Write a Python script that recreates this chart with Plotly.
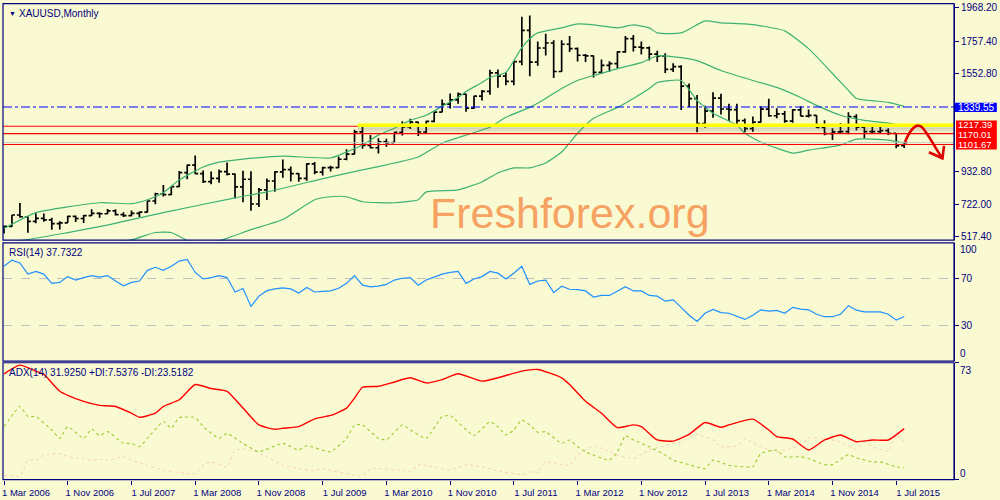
import plotly.graph_objects as go

# ---------------- data ----------------
month_names = ["Jan", "Feb", "Mar", "Apr", "May", "Jun", "Jul", "Aug", "Sep", "Oct", "Nov", "Dec"]
months = [f"{m} {y}" for y in range(2006, 2016) for m in month_names]
months = months[months.index("Mar 2006"): months.index("Aug 2015") + 1]

opens = [556, 582, 654, 643, 614, 633, 623, 599, 604, 646,
         632, 650, 665, 662, 680, 656, 650, 665, 672, 743, 789, 783,
         834, 923, 971, 917, 866, 886, 929, 913, 833, 881, 724, 814,
         870, 928, 942, 917, 886, 979, 926, 955, 955, 1008, 1040, 1182,
         1096, 1081, 1118, 1113, 1179, 1213, 1244, 1181, 1248, 1307, 1358, 1385,
         1421, 1333, 1409, 1439, 1556, 1536, 1502, 1628, 1826, 1624, 1714, 1746,
         1565, 1738, 1710, 1668, 1664, 1560, 1604, 1615, 1689, 1774, 1720, 1715,
         1675, 1662, 1578, 1596, 1472, 1393, 1234, 1313, 1396, 1327, 1323, 1253,
         1202, 1244, 1326, 1284, 1296, 1250, 1322, 1282, 1286, 1210, 1171, 1182,
         1183, 1279, 1212, 1183, 1183, 1190, 1172, 1095]
highs = [588, 654, 730, 646, 665, 664, 636, 614, 650, 651,
         654, 690, 671, 692, 691, 672, 683, 676, 745, 795, 845, 838,
         933, 975, 1032, 937, 930, 943, 988, 918, 935, 932, 825, 886,
         932, 1006, 962, 920, 982, 990, 961, 966, 1025, 1071, 1195, 1227,
         1162, 1141, 1138, 1180, 1249, 1265, 1246, 1253, 1308, 1388, 1425, 1431,
         1423, 1411, 1447, 1576, 1577, 1560, 1632, 1913, 1921, 1755, 1804, 1763,
         1764, 1791, 1718, 1676, 1666, 1641, 1630, 1694, 1790, 1796, 1755, 1723,
         1697, 1681, 1617, 1604, 1488, 1416, 1348, 1434, 1424, 1361, 1361, 1267,
         1279, 1345, 1392, 1331, 1315, 1326, 1345, 1324, 1287, 1256, 1205, 1238,
         1307, 1294, 1220, 1224, 1232, 1205, 1174, 1119]
lows = [536, 580, 636, 542, 602, 612, 560, 562, 603, 609,
        604, 647, 636, 660, 651, 641, 646, 642, 670, 722, 772, 781,
        832, 881, 912, 857, 850, 859, 905, 759, 735, 681, 705, 750,
        802, 890, 866, 865, 871, 913, 905, 930, 952, 1002, 1039, 1075,
        1076, 1045, 1088, 1113, 1159, 1200, 1155, 1174, 1243, 1307, 1330, 1360,
        1309, 1329, 1381, 1418, 1462, 1478, 1478, 1604, 1535, 1602, 1667, 1523,
        1563, 1688, 1628, 1625, 1527, 1549, 1564, 1586, 1684, 1692, 1673, 1635,
        1626, 1555, 1562, 1321, 1338, 1180, 1208, 1271, 1292, 1251, 1226, 1180,
        1182, 1239, 1277, 1268, 1240, 1240, 1281, 1273, 1206, 1161, 1130, 1170,
        1167, 1190, 1141, 1170, 1170, 1162, 1077, 1079]
closes = [582, 654, 643, 614, 633, 623, 599, 604, 646, 632,
          650, 665, 662, 680, 656, 650, 665, 672, 743, 789, 783, 834,
          923, 971, 917, 866, 886, 929, 913, 833, 881, 724, 814, 870,
          928, 942, 917, 886, 979, 926, 955, 955, 1008, 1040, 1182, 1096,
          1081, 1118, 1113, 1179, 1213, 1244, 1181, 1248, 1307, 1358, 1385, 1421,
          1333, 1409, 1439, 1556, 1536, 1502, 1628, 1826, 1624, 1714, 1746, 1565,
          1738, 1710, 1668, 1664, 1560, 1604, 1615, 1689, 1774, 1720, 1715, 1675,
          1662, 1578, 1596, 1472, 1393, 1234, 1313, 1396, 1327, 1323, 1253, 1202,
          1244, 1326, 1284, 1296, 1250, 1322, 1282, 1286, 1210, 1171, 1182, 1183,
          1279, 1212, 1183, 1183, 1190, 1172, 1095, 1113]

# Bollinger bands (at selected bars)
bb_up_idx = [0, 4, 12, 16, 18, 20, 22, 25, 27, 30, 35, 41, 43, 45, 47, 49, 51, 53, 55, 57, 58, 60, 61, 63,
             64, 65, 66, 67, 70, 72, 74, 77, 79, 81, 82, 85, 88, 90, 93, 95, 98, 101, 104, 106, 107, 111, 113]
bb_up = [568, 669, 732, 726, 751, 795, 877, 959, 990, 1009, 1028, 1016, 1054, 1098, 1161, 1205, 1255, 1287,
         1344, 1400, 1438, 1495, 1527, 1558, 1634, 1716, 1773, 1810, 1842, 1867, 1861, 1842, 1861, 1842,
         1810, 1810, 1886, 1874, 1867, 1855, 1823, 1710, 1552, 1445, 1394, 1369, 1344]
bb_mid_idx = [0, 3, 12, 20, 29, 33, 41, 45, 49, 52, 55, 58, 61, 63, 66, 68, 70, 72, 74, 77, 80, 82, 85, 87,
              90, 94, 97, 100, 102, 105, 108, 111, 113]
bb_mid = [480, 498, 580, 669, 763, 801, 896, 940, 984, 1022, 1110, 1161, 1211, 1274, 1337, 1394, 1457, 1508,
          1539, 1583, 1621, 1665, 1653, 1634, 1571, 1508, 1464, 1400, 1350, 1287, 1255, 1237, 1218]
bb_low_idx = [0, 8, 12, 16, 19, 21, 23, 25, 27, 31, 35, 39, 41, 43, 45, 49, 52, 53, 57, 60, 62, 64, 66, 68,
              70, 72, 74, 77, 79, 81, 82, 85, 87, 89, 92, 93, 95, 99, 101, 105, 107, 111, 113]
bb_low = [390, 440, 470, 496, 543, 543, 492, 478, 490, 561, 625, 751, 770, 770, 738, 732, 751, 801, 814,
          864, 921, 953, 953, 984, 1054, 1173, 1268, 1337, 1394, 1457, 1495, 1508, 1382, 1300, 1224, 1173,
          1117, 1047, 1066, 1098, 1136, 1129, 1110]

# RSI(14), one value per bar
rsi = [80.1, 85.4, 83.0, 73.5, 75.8, 73.5, 65.7, 66.5, 71.4, 68.5,
       70.6, 72.3, 70.9, 72.3, 67.7, 63.6, 66.5, 67.7, 76.7, 79.3,
       76.7, 80.1, 84.5, 85.9, 74.9, 69.4, 70.6, 72.3, 70.6, 58.4,
       61.3, 46.2, 54.9, 59.5, 61.0, 61.9, 61.0, 57.5, 62.2, 58.4,
       59.0, 59.3, 61.5, 65.7, 72.3, 64.2, 62.8, 63.4, 64.8, 68.5,
       70.0, 70.6, 64.2, 68.5, 71.0, 73.5, 75.0, 75.8, 65.7, 69.4,
       71.4, 75.8, 74.3, 69.4, 74.3, 80.1, 64.8, 67.7, 68.5, 57.8,
       63.3, 60.7, 60.4, 59.3, 54.1, 55.5, 55.5, 59.0, 62.8, 59.3,
       59.3, 55.5, 54.9, 50.6, 51.7, 45.4, 38.7, 33.5, 40.4, 43.6,
       41.0, 40.4, 38.1, 35.2, 38.7, 43.3, 42.2, 42.8, 40.4, 45.4,
       43.9, 43.3, 39.6, 37.5, 37.5, 39.6, 46.8, 43.0, 41.6, 41.6,
       41.6, 39.6, 34.6, 37.7]
rsi_last_text = "37.7322"

# ADX(14) and DI lines (at selected bars)
adx_idx = [0, 2, 4, 5, 7, 8, 10, 12, 14, 16, 17, 19, 20, 22, 24, 26, 28, 30, 32, 34, 35, 37, 39, 41, 43, 44,
           45, 47, 49, 51, 53, 55, 57, 60, 62, 65, 67, 70, 71, 73, 75, 77, 79, 80, 82, 84, 86, 88, 90, 91, 94,
           96, 97, 99, 101, 103, 105, 107, 109, 111, 113]
adx = [66.1, 71.5, 67.8, 65.7, 55.2, 52.7, 48.9, 46.4, 45.7, 41.5, 39.0, 41.5, 45.7, 49.9, 59.4, 56.9, 55.2,
       44.7, 34.2, 31.5, 32.1, 33.1, 38.0, 40.1, 44.7, 51.0, 57.7, 58.3, 61.0, 63.6, 60.4, 62.5, 66.1, 61.5,
       63.6, 67.8, 68.8, 63.6, 59.4, 48.9, 41.5, 32.5, 34.2, 33.1, 24.8, 24.1, 28.3, 35.7, 32.7, 34.2, 37.8,
       31.0, 26.9, 25.4, 18.5, 24.8, 27.9, 23.7, 24.8, 24.8, 31.9]
pdi_idx = [0, 2, 3, 4, 6, 7, 8, 10, 11, 12, 13, 15, 16, 17, 18, 20, 21, 22, 24, 25, 27, 28, 30, 32, 35, 37,
           38, 41, 43, 44, 45, 47, 48, 50, 51, 53, 55, 56, 59, 61, 62, 63, 64, 65, 66, 67, 68, 70, 71, 72, 73,
           76, 77, 78, 79, 81, 83, 84, 86, 88, 89, 91, 93, 94, 95, 97, 98, 100, 101, 103, 104, 106, 107, 109,
           110, 112, 113]
pdi = [33.1, 45.7, 39.4, 39.4, 31.0, 25.8, 33.1, 25.8, 31.7, 27.5, 30.0, 22.7, 22.7, 20.6, 25.8, 36.3, 32.1,
       38.8, 38.8, 33.1, 25.8, 28.9, 22.7, 17.4, 22.7, 18.5, 21.2, 17.4, 25.8, 34.2, 34.2, 25.8, 24.8, 34.2,
       31.0, 25.8, 39.4, 40.1, 27.5, 36.3, 33.0, 27.9, 31.0, 37.3, 34.2, 29.6, 30.0, 22.7, 24.8, 20.6, 17.4,
       12.2, 17.4, 27.5, 24.8, 20.6, 15.3, 12.2, 9.4, 6.9, 12.2, 9.0, 8.0, 8.0, 16.4, 18.5, 14.3, 14.3, 13.2,
       9.4, 9.4, 15.7, 13.6, 11.1, 11.1, 8.0, 7.5]
mdi_idx = [0, 2, 3, 4, 5, 7, 8, 10, 11, 12, 13, 15, 16, 18, 20, 24, 25, 26, 28, 29, 30, 31, 33, 35, 37, 39,
           40, 42, 45, 46, 50, 51, 52, 54, 56, 58, 60, 62, 65, 66, 67, 68, 71, 72, 74, 76, 77, 79, 81, 83, 85,
           87, 89, 90, 92, 93, 95, 97, 98, 100, 101, 103, 105, 107, 108, 109, 111, 112, 113]
mdi = [2.7, 2.3, 12.2, 12.2, 15.3, 16.4, 14.3, 13.2, 12.2, 12.8, 12.2, 14.3, 12.2, 9.0, 5.9, 3.8, 9.0, 11.1,
       8.0, 18.5, 19.1, 18.5, 14.3, 9.0, 6.9, 5.9, 6.9, 4.8, 2.3, 6.9, 5.9, 4.8, 9.4, 8.0, 5.9, 9.4, 8.0, 5.4,
       3.1, 4.8, 4.8, 11.1, 9.0, 15.3, 21.2, 17.4, 15.3, 13.2, 18.5, 21.2, 23.7, 28.3, 24.8, 20.6, 21.2, 25.4,
       20.6, 17.4, 18.5, 21.2, 26.2, 25.8, 23.7, 19.1, 23.7, 20.6, 17.8, 27.9, 23.5]
adx_text = "ADX(14) 31.9250 +DI:7.5376 -DI:23.5182"

# horizontal levels and axis labels
level_blue = 1339.55
levels_red = [1217.39, 1170.01, 1101.67]
level_yellow = 1224.0
yellow_start_bar = "Nov 2009"
bid_price = closes[-1]
price_ticks = [1968.20, 1757.40, 1552.80, 932.80, 722.00, 517.40]
tick_labels = ["1 Mar 2006", "1 Nov 2006", "1 Jul 2007", "1 Mar 2008", "1 Nov 2008", "1 Jul 2009",
               "1 Mar 2010", "1 Nov 2010", "1 Jul 2011", "1 Mar 2012", "1 Nov 2012", "1 Jul 2013",
               "1 Mar 2014", "1 Nov 2014", "1 Jul 2015"]
tick_idx = [months.index(t[2:]) for t in tick_labels]

# ---------------- styling / layout ----------------
BG = "#FAFAD2"
NAVY = "#000080"
FONT = "Liberation Sans, Arial, sans-serif"
W, H = 1000, 500
ML, MR, MT, MB = 2, 43, 2, 18
PH = H - MT - MB  # plot height in px
PW = W - ML - MR


def dom(top_px, bot_px):
    return [(H - MB - bot_px) / PH, (H - MB - top_px) / PH]


MAIN_PX = (2.7, 240.7)
RSI_PX = (243.3, 362.3)
ADX_PX = (364.0, 481.7)
# price axis calibration from the tick labels (1968.20 at 7px, 517.40 at 237px)
ppx = (1968.20 - 517.40) / (237 - 7)
main_range = [1968.20 - (MAIN_PX[1] - 7) * ppx, 1968.20 - (MAIN_PX[0] - 7) * ppx]
bars_per_px = 1 / 8.0
x_range = [-(3 - ML) * bars_per_px, (W - MR - 3) * bars_per_px]


def px_to_price(ypx):
    return 1968.20 - (ypx - 7) * ppx


x = list(range(len(closes)))

fig = go.Figure()
fig.add_trace(go.Ohlc(x=x, open=opens, high=highs, low=lows, close=closes,
                      increasing=dict(line=dict(color="black", width=1.7)),
                      decreasing=dict(line=dict(color="black", width=1.7)),
                      tickwidth=0.38, hoverinfo="skip", xaxis="x", yaxis="y"))
for xi, yi in [(bb_up_idx, bb_up), (bb_mid_idx, bb_mid), (bb_low_idx, bb_low)]:
    fig.add_trace(go.Scatter(x=xi, y=yi, mode="lines",
                             line=dict(color="#3CB371", width=1.2, shape="spline", smoothing=0.5),
                             hoverinfo="skip", xaxis="x", yaxis="y"))
fig.add_trace(go.Scatter(x=x, y=rsi, mode="lines", line=dict(color="#1E90FF", width=1.2),
                         hoverinfo="skip", xaxis="x", yaxis="y2"))
fig.add_trace(go.Scatter(x=mdi_idx, y=mdi, mode="lines",
                         line=dict(color="#F5D6BC", width=1.1, dash="dot", shape="spline", smoothing=0.4),
                         hoverinfo="skip", xaxis="x", yaxis="y3"))
fig.add_trace(go.Scatter(x=pdi_idx, y=pdi, mode="lines",
                         line=dict(color="#9ACD32", width=1.1, dash="3px,3px", shape="spline", smoothing=0.4),
                         hoverinfo="skip", xaxis="x", yaxis="y3"))
fig.add_trace(go.Scatter(x=adx_idx, y=adx, mode="lines",
                         line=dict(color="#FF0000", width=1.4, shape="spline", smoothing=0.5),
                         hoverinfo="skip", xaxis="x", yaxis="y3"))

shapes = []
# bid line
shapes.append(dict(type="line", xref="paper", x0=0, x1=1, yref="y", y0=bid_price, y1=bid_price,
                   line=dict(color="#C8C8C8", width=1)))
# red levels
for lv in levels_red:
    shapes.append(dict(type="line", xref="paper", x0=0, x1=1, yref="y", y0=lv, y1=lv,
                       line=dict(color="#FF0000", width=1.2)))
# blue dash-dot level
shapes.append(dict(type="line", xref="paper", x0=0, x1=1, yref="y", y0=level_blue, y1=level_blue,
                   line=dict(color="#0000FF", width=1.2, dash="dashdot")))
# yellow thick line with a soft shadow underneath
ys = months.index(yellow_start_bar) + 0.4
for k, a in enumerate([0.22, 0.15, 0.09, 0.05]):
    yv = level_yellow - (3 + 1.5 * k) * ppx
    shapes.append(dict(type="line", xref="x", x0=ys, x1=x_range[1], yref="y", y0=yv, y1=yv,
                       line=dict(color=f"rgba(100,100,80,{a})", width=2)))
shapes.append(dict(type="line", xref="x", x0=ys, x1=x_range[1], yref="y", y0=level_yellow, y1=level_yellow,
                   line=dict(color="#FFFF00", width=3.5)))
# hand-drawn red arrow
n = len(closes) - 1
shapes.append(dict(type="path", xref="x", yref="y",
                   path=f"M {n+0.1},1117 C {n+0.7},1190 {n+1.4},1230 {n+2.0},1219 "
                        f"C {n+2.6},1210 {n+3.6},1100 {n+4.8},1014",
                   line=dict(color="#E00000", width=2.6)))
shapes.append(dict(type="path", xref="x", yref="y",
                   path=f"M {n+3.1},1052 L {n+4.8},1014 L {n+5.0},1093",
                   line=dict(color="#E00000", width=2.6)))
# label backgrounds on the price scale
shapes.append(dict(type="rect", xref="paper", x0=1 + 1 / PW, x1=1 + MR / PW, yref="y",
                   y0=px_to_price(111.7), y1=px_to_price(102.3), line=dict(width=0), fillcolor="#0000FF"))
shapes.append(dict(type="rect", xref="paper", x0=1 + 2 / PW, x1=1 + MR / PW, yref="y",
                   y0=px_to_price(149.5), y1=px_to_price(120.3), line=dict(width=0), fillcolor="#FF0000"))
# pane borders
for top, bot in [MAIN_PX, RSI_PX, ADX_PX]:
    d = dom(top, bot)
    shapes.append(dict(type="rect", xref="paper", yref="paper", x0=0, x1=1, y0=d[0], y1=d[1],
                       line=dict(color=NAVY, width=1.2)))

ann = []
ann.append(dict(text="▼", xref="paper", yref="paper", x=0, xshift=4, xanchor="left",
                y=dom(*MAIN_PX)[1], yanchor="top", yshift=-4, showarrow=False,
                font=dict(family=FONT, size=7, color=NAVY)))
ann.append(dict(text="XAUUSD,Monthly", xref="paper", yref="paper", x=0, xshift=14, xanchor="left",
                y=dom(*MAIN_PX)[1], yanchor="top", yshift=-2, showarrow=False,
                font=dict(family=FONT, size=10, color=NAVY)))
ann.append(dict(text="RSI(14) " + rsi_last_text, xref="paper", yref="paper",
                x=0, xshift=4, xanchor="left", y=dom(*RSI_PX)[1], yanchor="top", yshift=-2, showarrow=False,
                font=dict(family=FONT, size=10, color=NAVY)))
ann.append(dict(text=adx_text, xref="paper", yref="paper",
                x=0, xshift=4, xanchor="left", y=dom(*ADX_PX)[1], yanchor="top", yshift=-2, showarrow=False,
                font=dict(family=FONT, size=10, color=NAVY)))
ann.append(dict(text="Freshforex.org", xref="paper", yref="paper", x=(571.5 - ML) / PW,
                y=(H - MB - 213) / PH, xanchor="center", yanchor="middle", showarrow=False,
                font=dict(family=FONT, size=43, color="#F5A262")))
# price level labels (text on the coloured blocks)
ann.append(dict(text=f"{level_blue:.2f}", xref="paper", x=1, xanchor="left", xshift=3, yref="y", y=level_blue,
                yanchor="middle", showarrow=False, height=10, borderpad=0,
                font=dict(family=FONT, size=10, color="white")))
for lv, sh in zip(levels_red, [1.5, -1.0, 0.0]):
    ann.append(dict(text=f"{lv:.2f}", xref="paper", x=1, xanchor="left", xshift=3, yref="y", y=lv,
                    yshift=sh, yanchor="middle", showarrow=False, height=9, borderpad=0,
                    font=dict(family=FONT, size=9.5, color="white")))
# clamped end labels of the oscillator panes
for txt, ypx in [("100", 250), ("0", 355), ("73", 372), ("0", 475)]:
    ann.append(dict(text=txt, xref="paper", x=1, xanchor="left", xshift=4, yref="paper",
                    y=(H - MB - ypx) / PH, yanchor="middle", showarrow=False,
                    font=dict(family=FONT, size=10, color=NAVY)))

axis_common = dict(side="right", anchor="x", showgrid=False, zeroline=False, ticks="outside", ticklen=4,
                   tickcolor=NAVY, showline=True, linecolor=NAVY, tickfont=dict(family=FONT, size=10, color=NAVY))

fig.update_layout(
    width=W, height=H, margin=dict(l=ML, r=MR, t=MT, b=MB),
    paper_bgcolor=BG, plot_bgcolor=BG, showlegend=False, hovermode=False,
    xaxis=dict(domain=[0, 1], range=x_range, anchor="y3", rangeslider=dict(visible=False),
               showgrid=False, zeroline=False, showline=False, tickmode="array", tickvals=tick_idx,
               ticktext=tick_labels, ticks="outside", ticklen=4, tickcolor=NAVY, ticklabelshift=22,
               tickfont=dict(family=FONT, size=9.5, color=NAVY)),
    yaxis=dict(domain=dom(*MAIN_PX), range=main_range, tickmode="array", tickvals=price_ticks,
               ticktext=[f"{v:.2f}" for v in price_ticks], **axis_common),
    yaxis2=dict(domain=dom(*RSI_PX), range=[0, 100], tickmode="array", tickvals=[70, 30],
                ticktext=["70", "30"], **{**axis_common, "showgrid": True}, gridcolor="#C0C0C0",
                griddash="dash", gridwidth=1),
    yaxis3=dict(domain=dom(*ADX_PX), range=[0, 73], tickmode="array", tickvals=[73, 0],
                showticklabels=False, **axis_common),
    shapes=shapes, annotations=ann,
)

fig.write_html("out.html", config={"displayModeBar": False},
               post_script="document.body.style.margin='0';")
